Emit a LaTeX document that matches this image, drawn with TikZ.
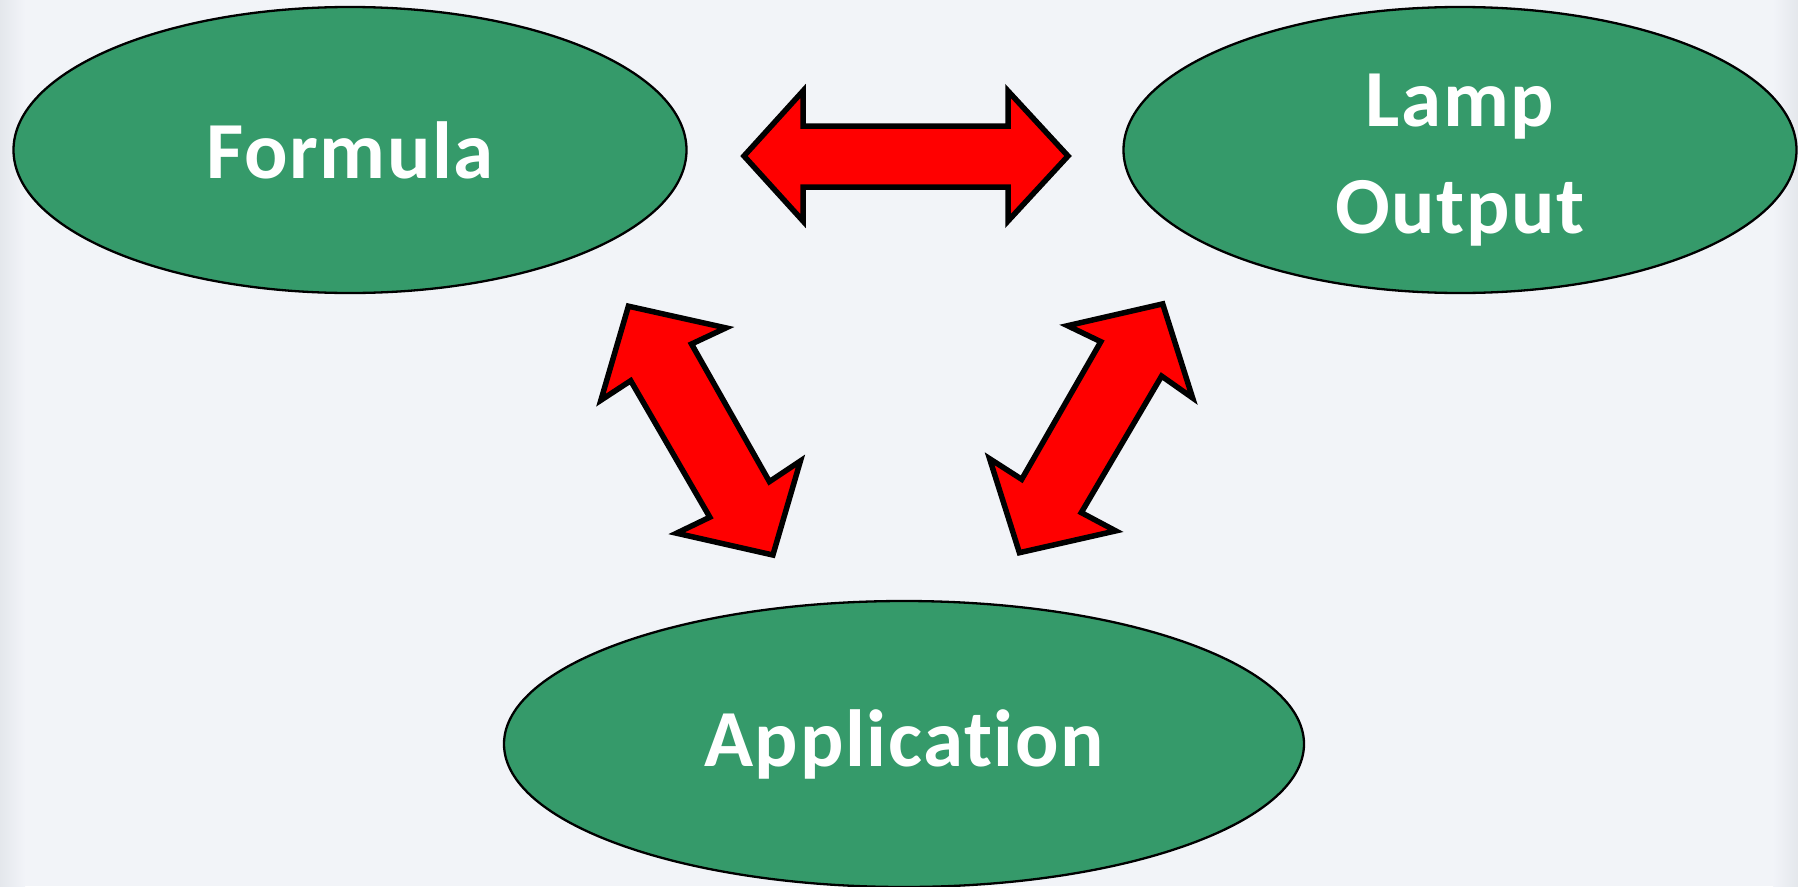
\documentclass[tikz,border=0pt]{standalone}
\usepackage{fontspec}
\setmainfont[Ligatures=NoCommon,LetterSpace=2]{Carlito}
\usetikzlibrary{shapes.geometric}
\definecolor{bgc}{HTML}{F2F4F8}
\definecolor{bgedge}{HTML}{E4E7EC}
\definecolor{ovalgreen}{HTML}{359A6A}
\definecolor{arrowred}{HTML}{FF0000}
\tikzset{
  ovaltext/.style={text=white, font=\fontsize{81}{107}\selectfont\bfseries, align=center, inner sep=0pt},
  oval/.style={ellipse, draw=black, line width=2.3pt, fill=ovalgreen, ovaltext},
  fatarrow/.style={draw=black, fill=arrowred, line width=5.5pt, line join=miter}
}
\begin{document}
\begin{tikzpicture}[x=1pt,y=-1pt]
\fill[bgc] (0,0) rectangle (1798,886);
\shade[left color=bgedge, right color=bgc] (0,0) rectangle (25,886);
\shade[left color=bgc, right color=bgedge] (1773,0) rectangle (1798,886);
\useasboundingbox (0,0) rectangle (1798,886);

\node[oval, minimum width=673pt, minimum height=286pt] (formula) at (350,150) {Formula};
\node[oval, minimum width=673pt, minimum height=286pt] (lamp) at (1460,150) {};
\node[ovaltext, yshift=-10pt] (lamptext) at (lamp.center) {Lamp\\Output};
\node[oval, minimum width=800pt, minimum height=286pt] (app) at (904,744) {Application};

% horizontal double arrow
\draw[fatarrow] (744,156) -- (803,91) -- (803,126) -- (1008,126) -- (1008,91) -- (1068,156)
  -- (1008,221) -- (1008,187) -- (803,187) -- (803,221) -- cycle;

% left diagonal double arrow
\draw[fatarrow] (628.4,306.2) -- (725.9,327.9) -- (691.5,344.0) -- (769.4,481.6) -- (800.4,461.0)
  -- (772.9,555.0) -- (676.6,533.2) -- (709.8,517.2) -- (630.7,380.7) -- (600.9,400.2) -- cycle;

% right diagonal double arrow
\draw[fatarrow] (1162.7,303.9) -- (1192.6,397.9) -- (1161.6,376.1) -- (1081.3,512.6) -- (1115.7,530.9)
  -- (1019.4,552.7) -- (989.6,458.7) -- (1021.7,479.3) -- (1100.8,341.7) -- (1067.6,325.7) -- cycle;
\end{tikzpicture}
\end{document}
